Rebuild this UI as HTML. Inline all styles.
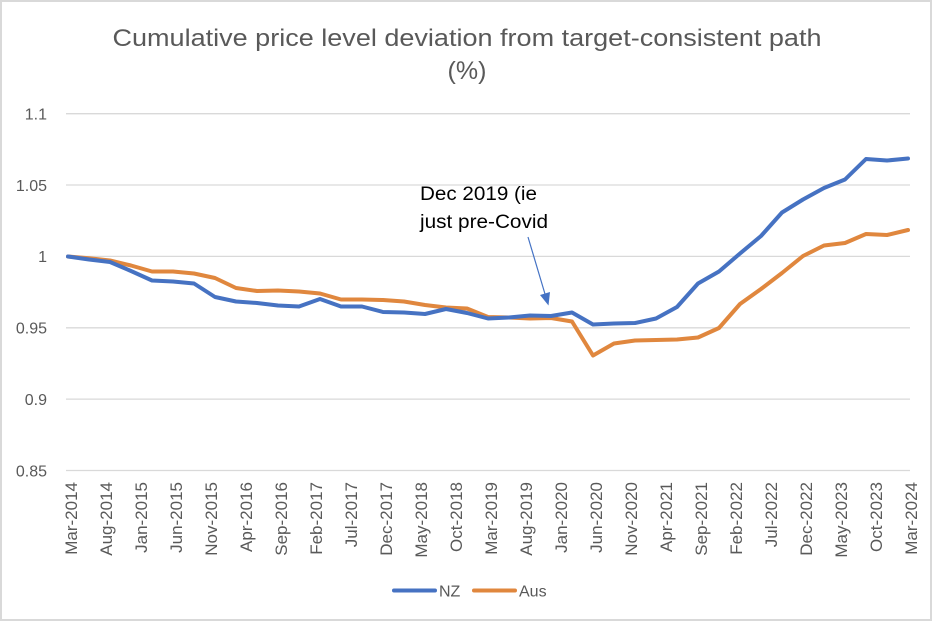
<!DOCTYPE html>
<html>
<head>
<meta charset="utf-8">
<style>
  html,body{margin:0;padding:0;background:#fff;}
  svg{display:block;font-family:"Liberation Sans",sans-serif;}
</style>
</head>
<body>
<svg width="934" height="622" viewBox="0 0 934 622" xmlns="http://www.w3.org/2000/svg">
  <rect width="934" height="622" fill="#fff"/>
  <rect x="1" y="1" width="930" height="619" fill="none" stroke="#D9D9D9" stroke-width="2"/>

  <!-- Title -->
  <text x="467" y="46" text-anchor="middle" font-size="24" fill="#595959" textLength="709" lengthAdjust="spacingAndGlyphs">Cumulative price level deviation from target-consistent path</text>
  <text x="467" y="79" text-anchor="middle" font-size="25" fill="#595959">(%)</text>

  <!-- Gridlines -->
  <g stroke="#D9D9D9" stroke-width="1.3">
    <line x1="66" y1="113.7" x2="910" y2="113.7"/>
    <line x1="66" y1="185" x2="910" y2="185"/>
    <line x1="66" y1="256.4" x2="910" y2="256.4"/>
    <line x1="66" y1="327.8" x2="910" y2="327.8"/>
    <line x1="66" y1="399.1" x2="910" y2="399.1"/>
    <line x1="66" y1="470.5" x2="910" y2="470.5"/>
  </g>

  <!-- Y labels -->
  <g font-size="16" fill="#595959" text-anchor="end">
    <text x="47" y="119.5">1.1</text>
    <text x="47" y="190.8">1.05</text>
    <text x="47" y="262.2">1</text>
    <text x="47" y="333.6">0.95</text>
    <text x="47" y="404.9">0.9</text>
    <text x="47" y="476.3">0.85</text>
  </g>

  <!-- X labels -->
  <g font-size="17" fill="#595959" text-anchor="end">
    <text transform="translate(77,482) rotate(-90)">Mar-2014</text>
    <text transform="translate(112,482) rotate(-90)">Aug-2014</text>
    <text transform="translate(147,482) rotate(-90)">Jan-2015</text>
    <text transform="translate(182,482) rotate(-90)">Jun-2015</text>
    <text transform="translate(217,482) rotate(-90)">Nov-2015</text>
    <text transform="translate(252,482) rotate(-90)">Apr-2016</text>
    <text transform="translate(287,482) rotate(-90)">Sep-2016</text>
    <text transform="translate(322,482) rotate(-90)">Feb-2017</text>
    <text transform="translate(357,482) rotate(-90)">Jul-2017</text>
    <text transform="translate(392,482) rotate(-90)">Dec-2017</text>
    <text transform="translate(427,482) rotate(-90)">May-2018</text>
    <text transform="translate(462,482) rotate(-90)">Oct-2018</text>
    <text transform="translate(497,482) rotate(-90)">Mar-2019</text>
    <text transform="translate(532,482) rotate(-90)">Aug-2019</text>
    <text transform="translate(567,482) rotate(-90)">Jan-2020</text>
    <text transform="translate(602,482) rotate(-90)">Jun-2020</text>
    <text transform="translate(637,482) rotate(-90)">Nov-2020</text>
    <text transform="translate(672,482) rotate(-90)">Apr-2021</text>
    <text transform="translate(707,482) rotate(-90)">Sep-2021</text>
    <text transform="translate(742,482) rotate(-90)">Feb-2022</text>
    <text transform="translate(777,482) rotate(-90)">Jul-2022</text>
    <text transform="translate(812,482) rotate(-90)">Dec-2022</text>
    <text transform="translate(847,482) rotate(-90)">May-2023</text>
    <text transform="translate(882,482) rotate(-90)">Oct-2023</text>
    <text transform="translate(917,482) rotate(-90)">Mar-2024</text>
  </g>

  <!-- Aus series -->
  <polyline fill="none" stroke="#E0873E" stroke-width="4" stroke-linejoin="round" stroke-linecap="round"
    points="68,256.5 89,258.3 110,260.5 131,265.5 152,271.5 173,271.5 194,273.5 215,278 236,288 257,291 278,290.5 299,291.5 320,293.5 341,299.5 362,299.5 383,300 404,301.5 425,305 446,307.5 467,308.5 488,317 509,317.5 530,318.5 551,318 572,321.5 593,355.5 614,343.5 635,340.5 656,340 677,339.5 698,337.5 719,328 740,304 761,289 782,273 803,256 824,245.5 845,243 866,234 887,235 908,230"/>

  <!-- NZ series -->
  <polyline fill="none" stroke="#4672C2" stroke-width="4" stroke-linejoin="round" stroke-linecap="round"
    points="68,256.5 89,259.5 110,262 131,271 152,280.5 173,281.5 194,283.5 215,297 236,301.5 257,303 278,305.5 299,306.5 320,299 341,306.5 362,306.5 383,312 404,312.5 425,314 446,309 467,313 488,318.5 509,317.5 530,315.5 551,316 572,312.5 593,324.5 614,323.5 635,323 656,318.5 677,307 698,283.5 719,271.5 740,253.5 761,236 782,212.5 803,199.5 824,188 845,179.5 866,159 887,160.5 908,158.5"/>

  <!-- Annotation -->
  <text x="420" y="200" font-size="19" fill="#000" textLength="117" lengthAdjust="spacingAndGlyphs">Dec 2019 (ie</text>
  <text x="420" y="228" font-size="19" fill="#000" textLength="128" lengthAdjust="spacingAndGlyphs">just pre-Covid</text>
  <line x1="528" y1="237" x2="545" y2="294" stroke="#4472C4" stroke-width="1.2"/>
  <polygon points="548.5,305.5 550,292 540,295" fill="#4472C4"/>

  <!-- Legend -->
  <line x1="394" y1="590.5" x2="435" y2="590.5" stroke="#4672C2" stroke-width="4" stroke-linecap="round"/>
  <text x="439" y="596.5" font-size="16" fill="#595959">NZ</text>
  <line x1="474" y1="590.5" x2="515" y2="590.5" stroke="#E0873E" stroke-width="4" stroke-linecap="round"/>
  <text x="519" y="596.5" font-size="16" fill="#595959">Aus</text>
</svg>
</body>
</html>
